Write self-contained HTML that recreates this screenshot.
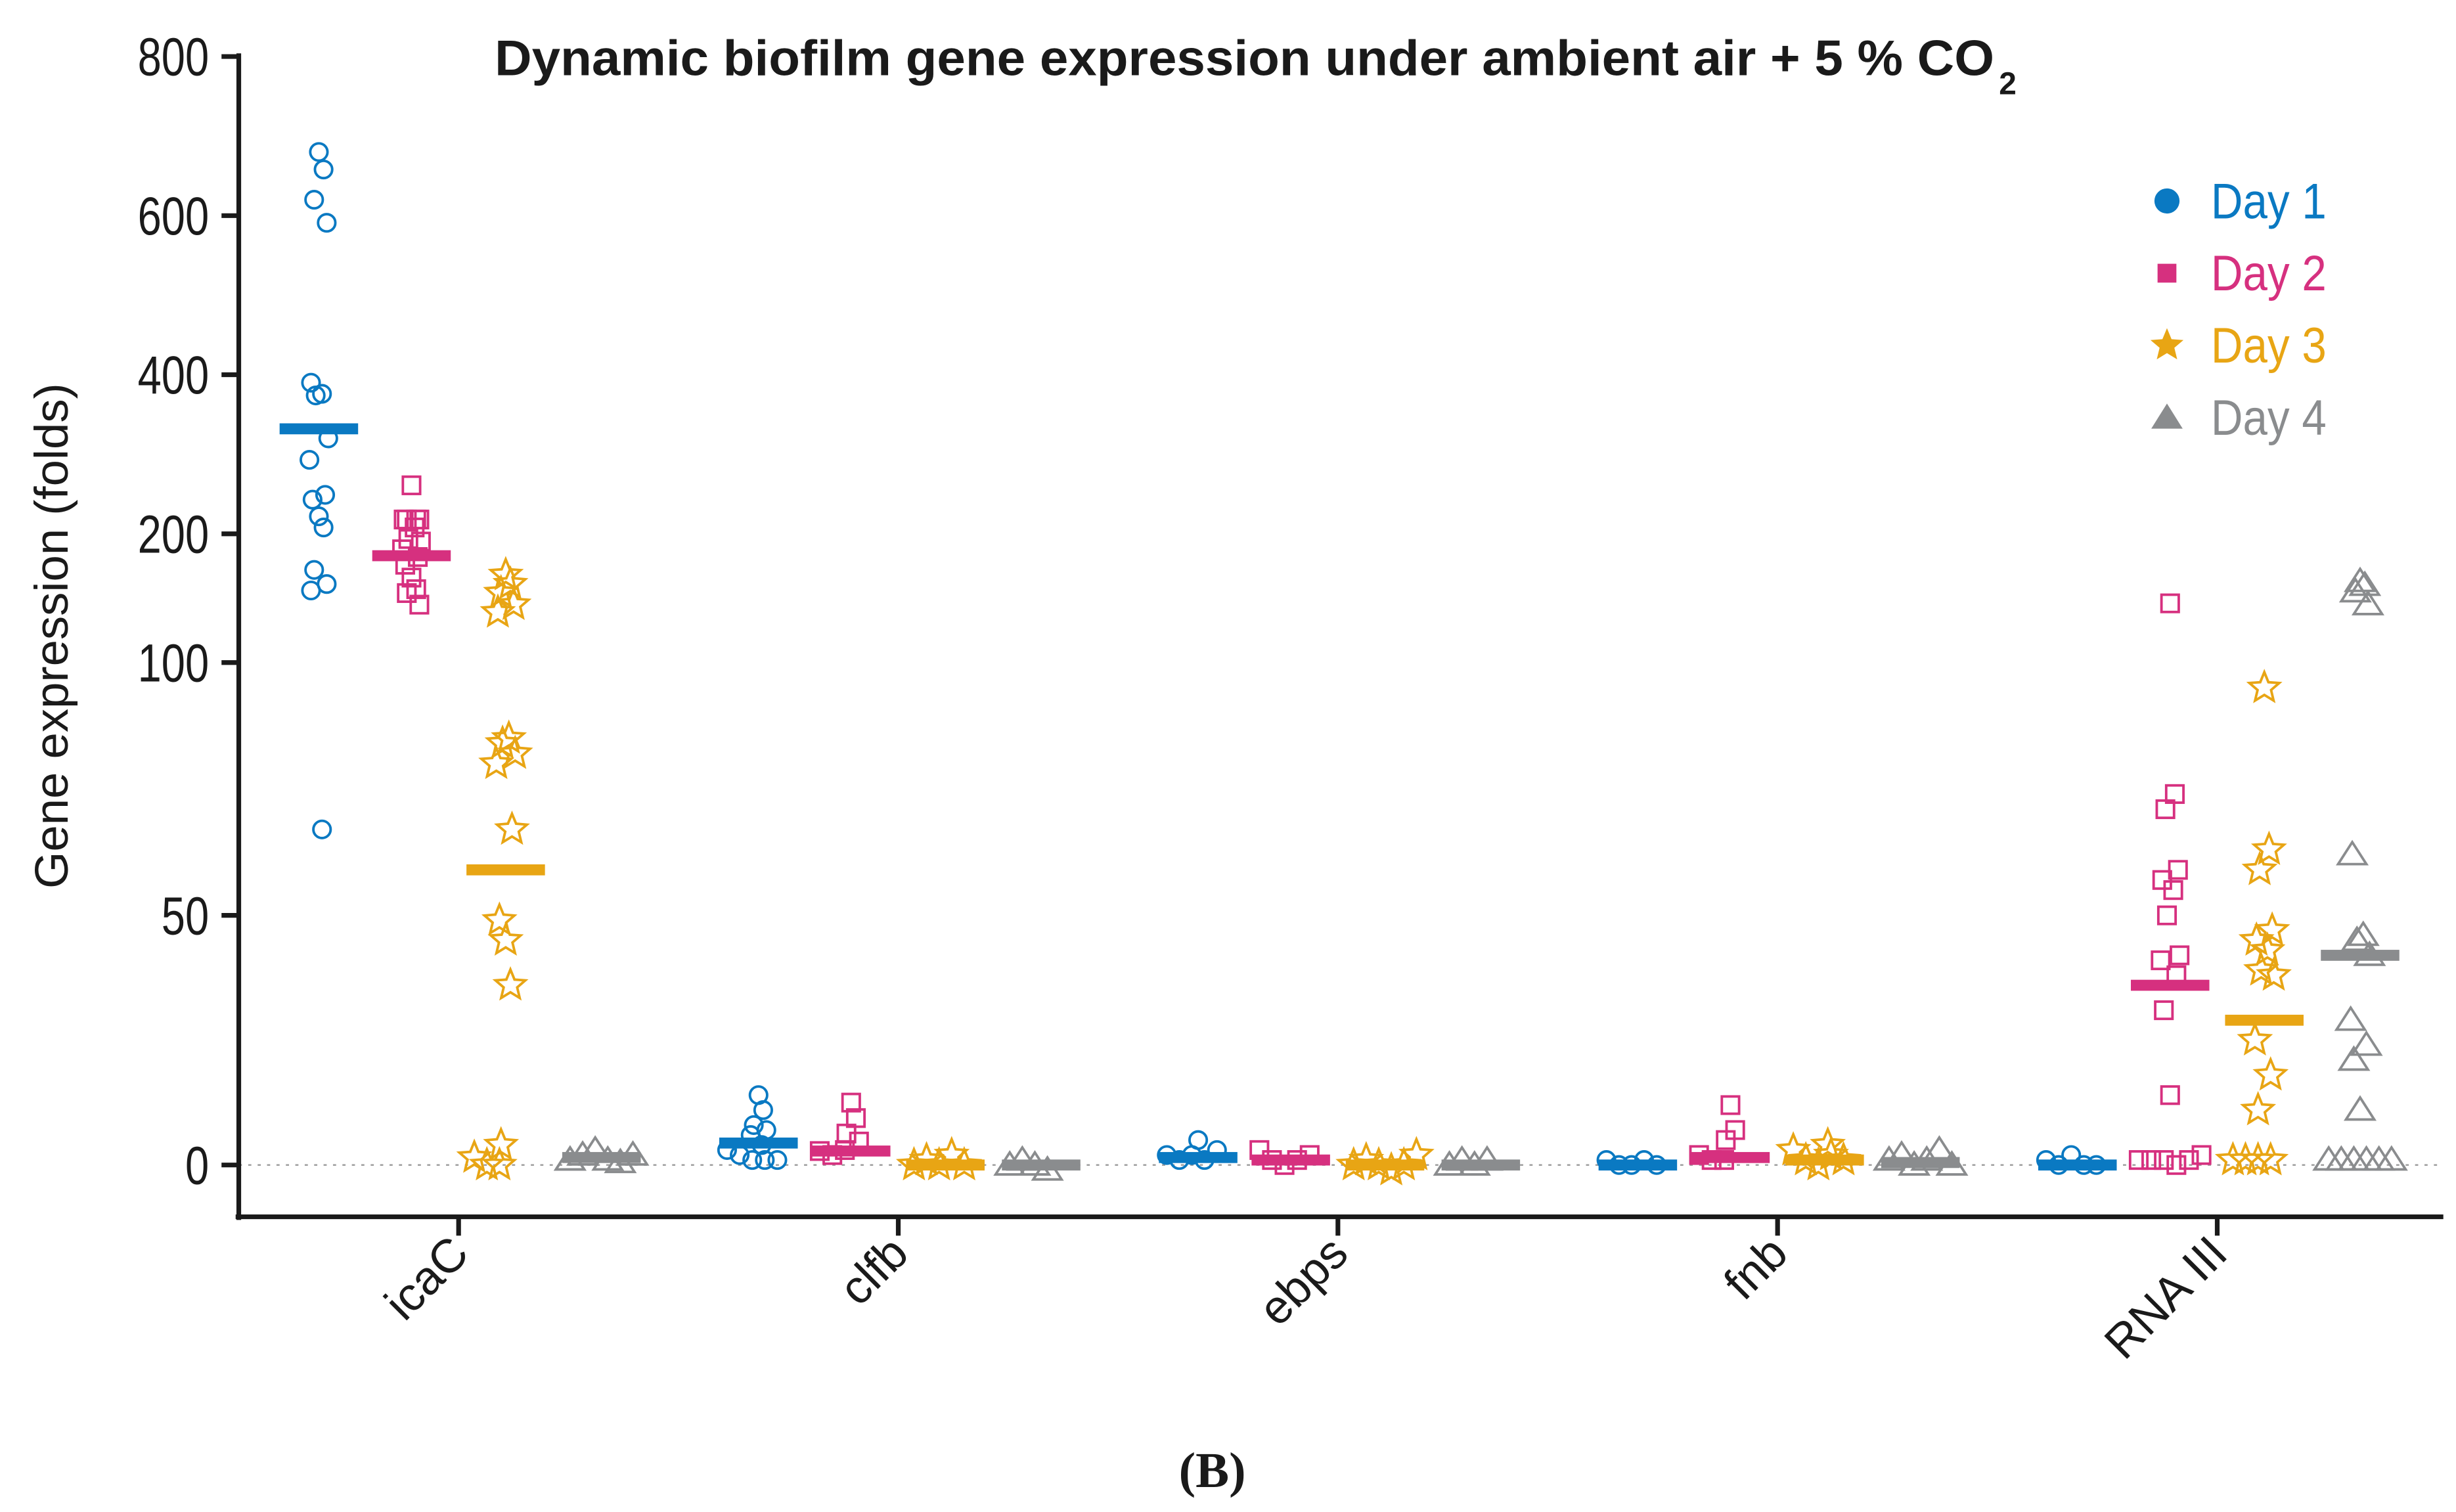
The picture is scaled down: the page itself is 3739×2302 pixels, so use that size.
<!DOCTYPE html>
<html><head><meta charset="utf-8"><style>html,body{margin:0;padding:0;background:#fff}svg{display:block}</style></head>
<body>
<svg id="chart" width="3739" height="2302" viewBox="0 0 1564 963" xmlns="http://www.w3.org/2000/svg" font-family="Liberation Sans, sans-serif">
<rect width="1564" height="963" fill="#fff"/>
<text x="315" y="48" font-size="32" font-weight="bold" fill="#1a1a1a" textLength="955" lengthAdjust="spacingAndGlyphs">Dynamic biofilm gene expression under ambient air + 5 % CO</text>
<text x="1273" y="60" font-size="20" font-weight="bold" fill="#1a1a1a">2</text>
<line x1="152" y1="742" x2="1556" y2="742" stroke="#999" stroke-width="1" stroke-dasharray="2,4"/>
<g id="axes"></g>
<g id="marks"></g>
<g id="legend"></g>
<text transform="translate(43,405) rotate(-90)" text-anchor="middle" font-size="30" fill="#1a1a1a" textLength="322" lengthAdjust="spacingAndGlyphs">Gene expression (folds)</text>
<text x="772" y="947" text-anchor="middle" font-family="Liberation Serif, serif" font-weight="bold" font-size="32" fill="#1a1a1a">(B)</text>
</svg>
<script>
const genes = ["icaC","clfb","ebps","fnb","RNA III"];
const days = ["Day 1","Day 2","Day 3","Day 4"];
const yTicks = [0,50,100,200,400,600,800];
const icaC_d1 = [680,658,620,591,390,376,374,320,293,249,243,222,208,172,161,156,67];
const icaC_d2 = [261,218,218,218,218,208,196,194,188,182,176,166,157,154,145];
const icaC_d3 = [168,161,154,145,139,85,84,82,80,67,49,45,36,4,1.5,0,0];
const icaC_d4 = [1,2,3,1,0.5,2,1];
const clfb_d1 = [14,11,8,7,6,4,3,2,1,1,1];
const clfb_d2 = [12.5,9.4,6.3,4.7,2.8,2,3];
const clfb_d3 = [0,1,0,2,0];
const clfb_d4 = [0,1,0,-1];
const ebps_d1 = [5,2,1,2,1,3];
const ebps_d2 = [3,1,0,1,2];
const ebps_d3 = [0,1,0,-1,0,2];
const ebps_d4 = [0,1,0,1];
const fnb_d1 = [1,0,0,1,0];
const fnb_d2 = [12,7,5,2,1,1];
const fnb_d3 = [3,1,0,2,1,4];
const fnb_d4 = [1,2,0,1,3,0];
const rna_d1 = [1,0,2,0,0];
const rna_d2 = [146,74,71,59,57,55,50,42,41,38,31,14,1,1,1,0,1,2];
const rna_d3 = [95,63,59,47,45,43,39,38,25,18,11,1,1,1,1];
const rna_d4 = [163,160,155,145,62,46,45,42,29,24,21,11,1,1,1,1,1,1];
const medians_d1 = [332,4.4,1.5,0,0];
const medians_d2 = [183,2.8,1,1.5,36];
const medians_d3 = [59,0,0,1,29];
const medians_d4 = [1.5,0,0,0.5,42];
const series = [[icaC_d1,clfb_d1,ebps_d1,fnb_d1,rna_d1],[icaC_d2,clfb_d2,ebps_d2,fnb_d2,rna_d2],[icaC_d3,clfb_d3,ebps_d3,fnb_d3,rna_d3],[icaC_d4,clfb_d4,ebps_d4,fnb_d4,rna_d4]];
const medians = [medians_d1,medians_d2,medians_d3,medians_d4];
const colors = ["#0a79c2","#d6307f","#e8a514","#8a8c8e"];
const shapes = ["circle","square","star","triangle"];

const NS="http://www.w3.org/2000/svg";
const segV=[0,50,100,200,800], segP=[742,583,422,340,36];
function yy(v){ if(v<=0) return 742 - v*3.2;
  for(let i=0;i<segV.length-1;i++){ if(v<=segV[i+1]){ return segP[i]+(v-segV[i])/(segV[i+1]-segV[i])*(segP[i+1]-segP[i]); } }
  return 36; }
const groupX=[292,572,852,1132,1412], dayOff=[-89,-30,30,91];
function x(g,d){ return groupX[g]+dayOff[d]; }
function el(tag,attrs,parent){const e=document.createElementNS(NS,tag);for(const k in attrs)e.setAttribute(k,attrs[k]);parent.appendChild(e);return e;}
function starPts(cx,cy,R){let p=[];for(let i=0;i<10;i++){const r=i%2?R*0.45:R;const a=-Math.PI/2+i*Math.PI/5;p.push((cx+r*Math.cos(a)).toFixed(1)+","+(cy+r*Math.sin(a)).toFixed(1));}return p.join(" ");}
function marker(shape,cx,cy,col,parent){
  const st={fill:"none",stroke:col,"stroke-width":1.6};
  if(shape==="circle") return el("circle",Object.assign({cx:cx,cy:cy,r:5.5},st),parent);
  if(shape==="square") return el("rect",Object.assign({x:cx-5.5,y:cy-5.5,width:11,height:11},st),parent);
  if(shape==="star") return el("polygon",Object.assign({points:starPts(cx,cy,10)},st),parent);
  return el("polygon",Object.assign({points:`${cx},${cy-8} ${cx-9},${cy+6} ${cx+9},${cy+6}`},st),parent);
}
const axes=document.getElementById("axes");
let a=el("line",{x1:152,y1:34,x2:152,y2:777,stroke:"#1a1a1a","stroke-width":3},axes);


a=el("line",{x1:150,y1:775,x2:1556,y2:775,stroke:"#1a1a1a","stroke-width":3},axes);


yTicks.forEach(t=>{
  const py=yy(t);
  const tk=el("line",{x1:141,y1:py,x2:152,y2:py,stroke:"#1a1a1a","stroke-width":3},axes);
  
  
  const tl=el("text",{x:133,y:py+12,"text-anchor":"end","font-size":34,fill:"#1a1a1a",transform:`translate(133,0) scale(0.8,1) translate(-133,0)`},axes);
  tl.textContent=t;
  
  
});
genes.forEach((g,i)=>{
  const gx=groupX[i];
  const tk=el("line",{x1:gx,y1:775,x2:gx,y2:787,stroke:"#1a1a1a","stroke-width":3},axes);
  
  
  const tl=el("text",{x:0,y:0,"text-anchor":"end","font-size":30,fill:"#1a1a1a",transform:`translate(${gx+8},${800}) rotate(-45)`},axes);
  tl.textContent=g;
  
  
});
const marks=document.getElementById("marks");
const jit=[0,3,-3,5,-5,2,-2,6,-6,4,-4];
series.forEach((byGene,d)=>{
  byGene.forEach((vals,g)=>{
    const cx=x(g,d);
    const grp=el("g",{},marks);
    
    
    let n0=0;
    vals.forEach((v,k)=>{
      const near0 = v<=3;
      const jx = near0 ? ((n0++%6)-2.5)*8 : jit[k%jit.length];
      const m=marker(shapes[d],cx+jx,yy(v),colors[d],grp);
      
      
    });
    const my=yy(medians[d][g]);
    const b=el("rect",{x:cx-25,y:my-3.5,width:50,height:7,fill:colors[d]},marks);
    
    
  });
});
const leg=document.getElementById("legend");
days.forEach((dname,d)=>{
  const ly=128+d*46;
  const g=el("g",{},leg);
  
  
  if(d===0) el("circle",{cx:1380,cy:ly,r:8,fill:colors[d]},g);
  else if(d===1) el("rect",{x:1374,y:ly-6,width:12,height:12,fill:colors[d]},g);
  else if(d===2) el("polygon",{points:starPts(1380,ly,11),fill:colors[d]},g);
  else el("polygon",{points:`1380,${ly-9} 1370,${ly+7} 1390,${ly+7}`,fill:colors[d]},g);
  const t=el("text",{x:1408,y:ly+11,"font-size":32,fill:colors[d],transform:`translate(1408,0) scale(0.88,1) translate(-1408,0)`},g);
  t.textContent=dname;
});
</script>
</body></html>
